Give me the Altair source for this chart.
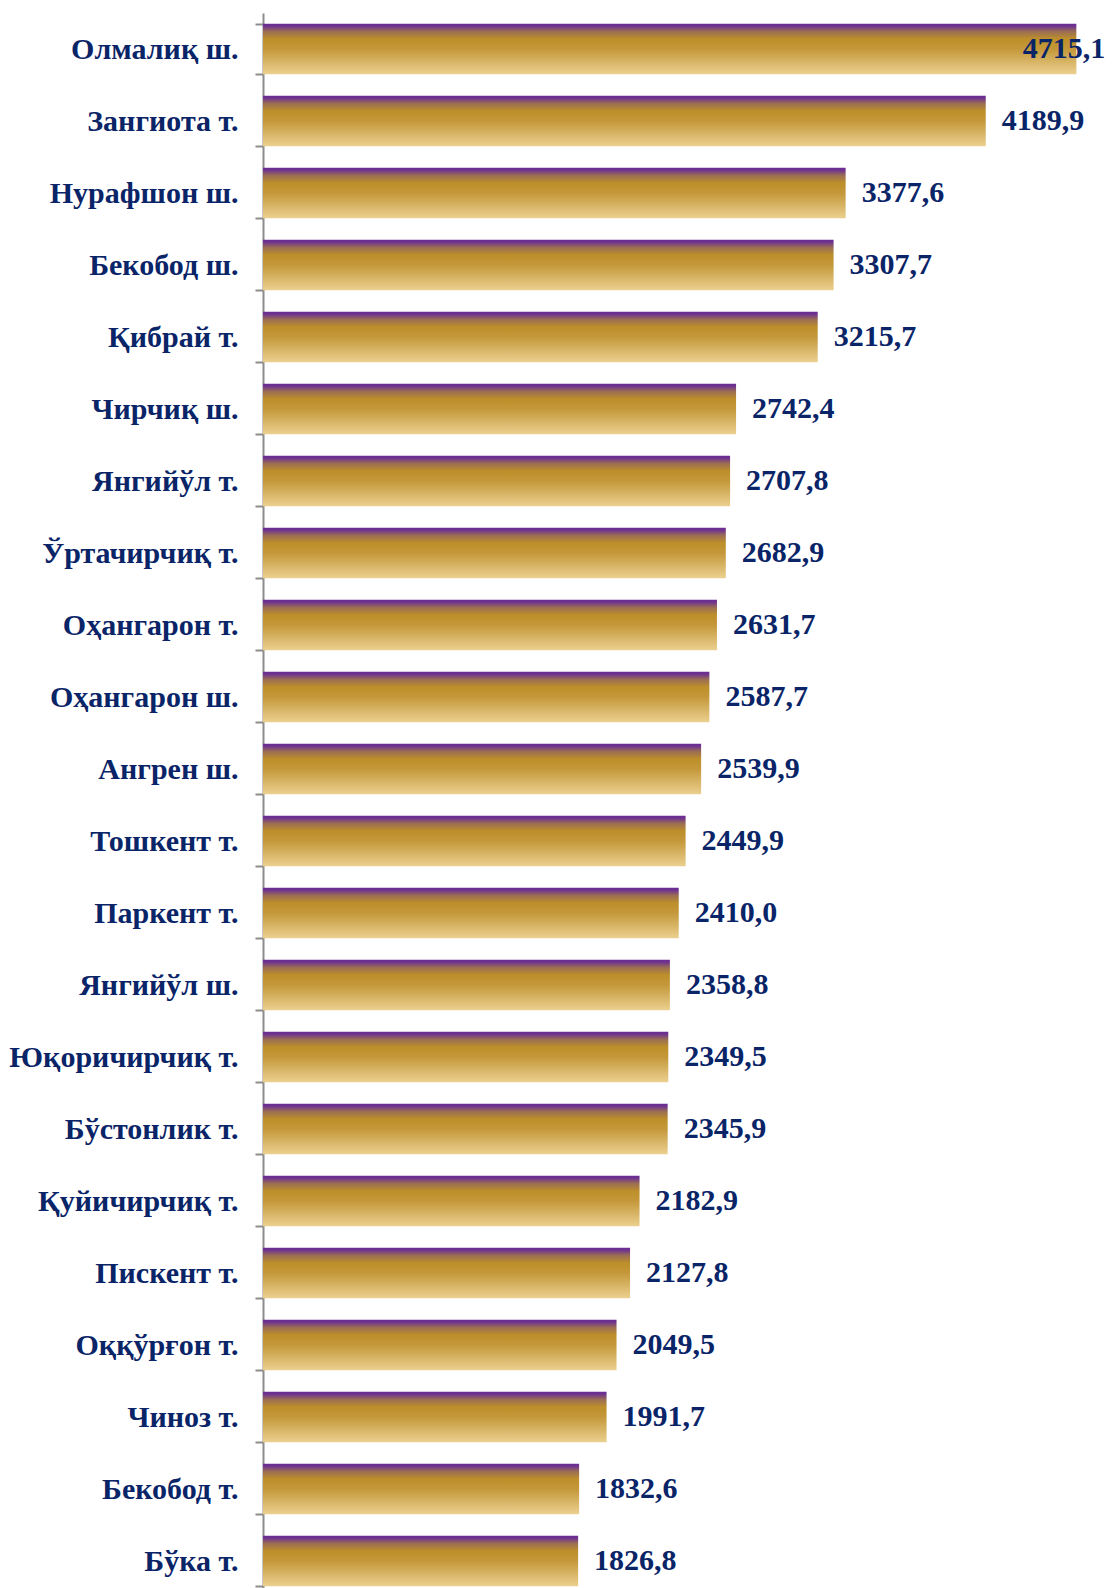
import altair as alt
import pandas as pd

categories = ["Олмалиқ ш.", "Зангиота т.", "Нурафшон ш.", "Бекобод ш.", "Қибрай т.",
              "Чирчиқ ш.", "Янгийўл т.", "Ўртачирчиқ т.", "Оҳангарон т.", "Оҳангарон ш.",
              "Ангрен ш.", "Тошкент т.", "Паркент т.", "Янгийўл ш.", "Юқоричирчиқ т.",
              "Бўстонлик т.", "Қуйичирчиқ т.", "Пискент т.", "Оққўрғон т.", "Чиноз т.",
              "Бекобод т.", "Бўка т."]
values = [4715.1, 4189.9, 3377.6, 3307.7, 3215.7, 2742.4, 2707.8, 2682.9, 2631.7, 2587.7,
          2539.9, 2449.9, 2410.0, 2358.8, 2349.5, 2345.9, 2182.9, 2127.8, 2049.5, 1991.7,
          1832.6, 1826.8]
labels = [f"{v:.1f}".replace(".", ",") for v in values]

df = pd.DataFrame({"cat": categories, "value": values, "label": labels})

FONT = "Liberation Serif"
NAVY = "#0a2468"

grad = alt.Gradient(
    gradient="linear", x1=0, x2=0, y1=0, y2=1,
    stops=[
        alt.GradientStop(color="#6a2a96", offset=0.0),
        alt.GradientStop(color="#70348e", offset=0.05),
        alt.GradientStop(color="#9a6d55", offset=0.15),
        alt.GradientStop(color="#bd8f2a", offset=0.3),
        alt.GradientStop(color="#c4983a", offset=0.5),
        alt.GradientStop(color="#ebd08f", offset=1.0),
    ],
)

y = alt.Y("cat:N", sort=categories, title=None,
          scale=alt.Scale(paddingInner=0.3, paddingOuter=0.15),
          axis=alt.Axis(labelFont=FONT, labelFontSize=30, labelFontWeight="bold",
                        labelColor=NAVY, labelPadding=17, tickSize=8, tickBand="extent",
                        tickColor="#8c8c8c", domainColor="#8c8c8c", domainWidth=2,
                        tickWidth=2, labelLimit=300))
x = alt.X("value:Q", title=None, scale=alt.Scale(domain=[0, 4800], nice=False), axis=None)

base = alt.Chart(df).encode(y=y, x=x)

bars = base.mark_bar(color=grad)
text = base.transform_filter("datum.value < 4500").mark_text(
    align="left", baseline="middle", dx=16, font=FONT, fontSize=30,
    fontWeight="bold", color=NAVY).encode(text="label:N")
text_top = base.transform_filter("datum.value >= 4500").mark_text(
    align="right", baseline="middle", dx=29, font=FONT, fontSize=30,
    fontWeight="bold", color=NAVY).encode(text="label:N")

chart = (bars + text + text_top).properties(
    width=828, height=1584,
    autosize=alt.AutoSizeParams(type="none"),
    padding={"left": 255, "top": 5, "right": 14, "bottom": 0},
).configure_view(stroke=None)

chart.save("out.html", embed_options={"renderer": "svg", "actions": False})
